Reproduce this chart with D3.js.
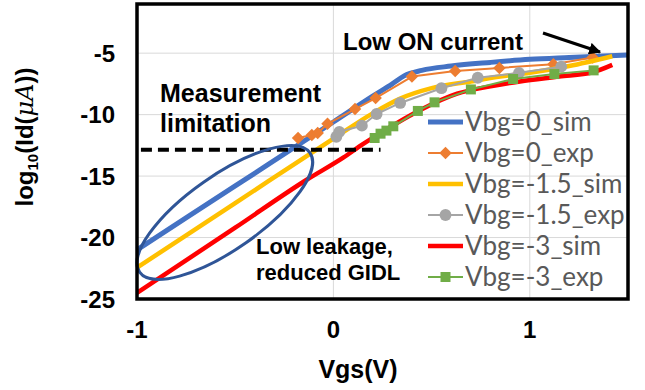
<!DOCTYPE html>
<html>
<head>
<meta charset="utf-8">
<script src="https://cdn.jsdelivr.net/npm/d3@7"></script>
<style>
  body { margin: 0; background: #fff; }
  svg { display: block; }
</style>
</head>
<body>
<div id="chart"></div>
<script>
// values: Vgs (V) and log10(Id(uA))
var vgsSim0 = [-1, -0.5, 0, 0.2, 0.3, 0.36, 0.45, 0.6, 0.8, 1.0, 1.2, 1.5];
var idSim0  = [-21.0, -15.8, -10.6, -8.5, -7.5, -6.85, -6.4, -6.05, -5.75, -5.5, -5.35, -5.15];

var vgsExp0 = [-0.18, -0.11, -0.08, -0.03, 0.11, 0.215, 0.40, 0.62, 0.845, 1.12, 1.32];
var idExp0  = [-11.9, -11.65, -11.5, -10.75, -9.55, -8.65, -6.9, -6.45, -6.2, -5.9, -5.35];

var vgsSim15 = [-1, -0.5, 0, 0.2, 0.34, 0.5, 0.7, 0.85, 1.0, 1.2, 1.42];
var idSim15  = [-22.45, -17.2, -11.95, -9.9, -8.7, -7.85, -7.3, -6.9, -6.6, -6.05, -5.25];

var vgsExp15 = [0.015, 0.03, 0.145, 0.22, 0.34, 0.55, 0.735, 0.945, 1.16];
var idExp15  = [-11.8, -11.4, -10.9, -9.95, -9.05, -7.85, -7.0, -6.6, -6.1];

var vgsSim3 = [-1, -0.5, -0.136, 0.05, 0.15, 0.25, 0.44, 0.63, 0.8, 0.95, 1.15, 1.32, 1.42];
var idSim3  = [-24.5, -19.2, -15.3, -13.5, -12.4, -11.4, -9.65, -8.3, -7.7, -7.3, -6.9, -6.55, -5.95];

var vgsExp3 = [0.21, 0.24, 0.27, 0.305, 0.43, 0.515, 0.7, 0.915, 1.125, 1.325];
var idExp3  = [-11.9, -11.55, -11.3, -10.95, -9.7, -9.0, -7.95, -7.1, -6.7, -6.4];

var xTicks = [-1, 0, 1];
var yTicks = [-5, -10, -15, -20, -25];
var seriesNames = ["Vbg=0_sim", "Vbg=0_exp", "Vbg=-1.5_sim", "Vbg=-1.5_exp", "Vbg=-3_sim", "Vbg=-3_exp"];

// annotation anchors (data units)
var limitLine = [[-0.98, -12.85], [0.24, -12.85]];
var ellipseCenter = [-0.553, -17.96];

var W = 645, H = 390;
var margin = {top: 4, right: 17, bottom: 91, left: 137},
    width = W - margin.left - margin.right,
    height = H - margin.top - margin.bottom;

var x = d3.scaleLinear().domain([-1, 1.5]).range([0, width]);
var y = d3.scaleLinear().domain([-25, -1]).range([height, 0]);

var svg = d3.select("#chart").append("svg")
    .attr("width", W).attr("height", H);

var g = svg.append("g")
    .attr("transform", "translate(" + margin.left + "," + margin.top + ")");

// gridlines
g.selectAll(".hgrid")
    .data(yTicks.filter(function(d) { return d > -25; }))
  .enter().append("line")
    .attr("x1", 0).attr("x2", width)
    .attr("y1", function(d) { return y(d); })
    .attr("y2", function(d) { return y(d); })
    .style("stroke", "#d9d9d9").style("stroke-width", 1);

g.selectAll(".vgrid")
    .data(xTicks.filter(function(d) { return d > -1; }))
  .enter().append("line")
    .attr("y1", 0).attr("y2", height)
    .attr("x1", function(d) { return x(d); })
    .attr("x2", function(d) { return x(d); })
    .style("stroke", "#d9d9d9").style("stroke-width", 1);

// tick labels
g.selectAll(".ylab")
    .data(yTicks)
  .enter().append("text")
    .attr("x", -22)
    .attr("y", function(d) { return y(d); })
    .attr("dy", "0.36em")
    .attr("text-anchor", "end")
    .style("font-family", "Liberation Sans, Arial, sans-serif")
    .style("font-weight", "bold")
    .style("font-size", "24px")
    .text(function(d) { return d; });

g.selectAll(".xlab")
    .data(xTicks)
  .enter().append("text")
    .attr("x", function(d) { return x(d); })
    .attr("y", height + 39)
    .attr("text-anchor", "middle")
    .style("font-family", "Liberation Sans, Arial, sans-serif")
    .style("font-weight", "bold")
    .style("font-size", "24px")
    .text(function(d) { return d; });

// axis titles
svg.append("text")
    .attr("x", 358).attr("y", 378)
    .attr("text-anchor", "middle")
    .style("font-family", "Liberation Sans, Arial, sans-serif")
    .style("font-weight", "bold")
    .style("font-size", "25px")
    .text("Vgs(V)");

var yt = svg.append("text")
    .attr("transform", "translate(33,137) rotate(-90)")
    .attr("text-anchor", "middle")
    .style("font-family", "Liberation Sans, Arial, sans-serif")
    .style("font-weight", "bold")
    .style("font-size", "24px");
yt.append("tspan").text("log");
yt.append("tspan").attr("dy", 5).style("font-size", "15px").text("10");
yt.append("tspan").attr("dy", -5).text("(Id(");
yt.append("tspan").style("font-style", "italic").style("font-weight", "normal")
    .style("font-family", "DejaVu Serif, serif").text("\u03bc");
yt.append("tspan").style("font-style", "italic").style("font-weight", "normal")
    .style("font-family", "DejaVu Serif, serif").text("A");
yt.append("tspan").text("))");

// series
var series = [
  {name: seriesNames[0], xs: vgsSim0,  ys: idSim0,  color: "#4472c4", w: 5,   marker: null},
  {name: seriesNames[1], xs: vgsExp0,  ys: idExp0,  color: "#ed7d31", w: 2,   marker: "diamond"},
  {name: seriesNames[2], xs: vgsSim15, ys: idSim15, color: "#ffc000", w: 4.5, marker: null},
  {name: seriesNames[3], xs: vgsExp15, ys: idExp15, color: "#a5a5a5", w: 2,   marker: "circle"},
  {name: seriesNames[4], xs: vgsSim3,  ys: idSim3,  color: "#ff0000", w: 4.5, marker: null},
  {name: seriesNames[5], xs: vgsExp3,  ys: idExp3,  color: "#70ad47", w: 2,   marker: "square"}
];

// diamond = square turned 45 degrees (Excel style, not d3's tall diamond)
var symbolType = {diamond: d3.symbolSquare, circle: d3.symbolCircle, square: d3.symbolSquare};
var symbolSize = {diamond: 78, circle: 110, square: 100};
var symbolRot = {diamond: 45, circle: 0, square: 0};

series.forEach(function(s) {
  var pts = s.xs.map(function(v, i) { return [v, s.ys[i]]; });
  var line = d3.line()
      .x(function(d) { return x(d[0]); })
      .y(function(d) { return y(d[1]); })
      .curve(s.marker ? d3.curveLinear : d3.curveMonotoneX);
  g.append("path")
      .datum(pts)
      .attr("d", line)
      .style("fill", "none")
      .style("stroke", s.color)
      .style("stroke-width", s.w)
      .style("stroke-linejoin", "round");
  if (s.marker) {
    g.selectAll(".m" + s.marker)
        .data(pts)
      .enter().append("path")
        .attr("transform", function(d) {
          return "translate(" + x(d[0]) + "," + y(d[1]) + ") rotate(" + symbolRot[s.marker] + ")";
        })
        .attr("d", d3.symbol().type(symbolType[s.marker]).size(symbolSize[s.marker]))
        .style("fill", s.color);
  }
});

// legend
var legend = svg.append("g").attr("transform", "translate(428,122)");
series.forEach(function(s, i) {
  var row = legend.append("g").attr("transform", "translate(0," + (i * 31) + ")");
  row.append("line")
      .attr("x1", 0).attr("x2", 35)
      .style("stroke", s.color)
      .style("stroke-width", s.marker ? 2 : s.w);
  if (s.marker) {
    row.append("path")
        .attr("transform", "translate(17.5,0) rotate(" + symbolRot[s.marker] + ")")
        .attr("d", d3.symbol().type(symbolType[s.marker]).size(symbolSize[s.marker]))
        .style("fill", s.color);
  }
  row.append("text")
      .attr("x", 37)
      .attr("dy", "0.35em")
      .style("font-family", "Lato, sans-serif")
      .style("font-size", "26px")
      .style("fill", "#595959")
      .text(s.name);
});

// annotations
g.append("line")
    .attr("x1", x(limitLine[0][0])).attr("x2", x(limitLine[1][0]))
    .attr("y1", y(limitLine[0][1])).attr("y2", y(limitLine[1][1]))
    .style("stroke", "#000")
    .style("stroke-width", 4)
    .style("stroke-dasharray", "11,6");

g.append("ellipse")
    .attr("transform", "translate(" + x(ellipseCenter[0]) + "," + y(ellipseCenter[1]) + ") rotate(-35)")
    .attr("rx", 104).attr("ry", 37)
    .style("fill", "none")
    .style("stroke", "#2f5597")
    .style("stroke-width", 3);

var notes = [
  {t: "Measurement", x: 160, y: 102, s: 25},
  {t: "limitation", x: 160, y: 132, s: 25},
  {t: "Low ON current", x: 343, y: 50, s: 24},
  {t: "Low leakage,", x: 256, y: 254, s: 22},
  {t: "reduced GIDL", x: 256, y: 280, s: 22}
];
svg.selectAll(".note")
    .data(notes)
  .enter().append("text")
    .attr("x", function(d) { return d.x; })
    .attr("y", function(d) { return d.y; })
    .style("font-family", "Liberation Sans, Arial, sans-serif")
    .style("font-weight", "bold")
    .style("font-size", function(d) { return d.s + "px"; })
    .text(function(d) { return d.t; });

svg.append("defs").append("marker")
    .attr("id", "arrow")
    .attr("viewBox", "0 0 10 10")
    .attr("refX", 9).attr("refY", 5)
    .attr("markerWidth", 4).attr("markerHeight", 4)
    .attr("orient", "auto")
  .append("path")
    .attr("d", "M0,0 L10,5 L0,10 z")
    .style("fill", "#000");

svg.append("line")
    .attr("x1", 543).attr("y1", 33)
    .attr("x2", 600).attr("y2", 52)
    .style("stroke", "#000")
    .style("stroke-width", 3)
    .attr("marker-end", "url(#arrow)");

// plot frame
g.append("rect")
    .attr("width", width).attr("height", height)
    .style("fill", "none")
    .style("stroke", "#000")
    .style("stroke-width", 3.5);
</script>
</body>
</html>
